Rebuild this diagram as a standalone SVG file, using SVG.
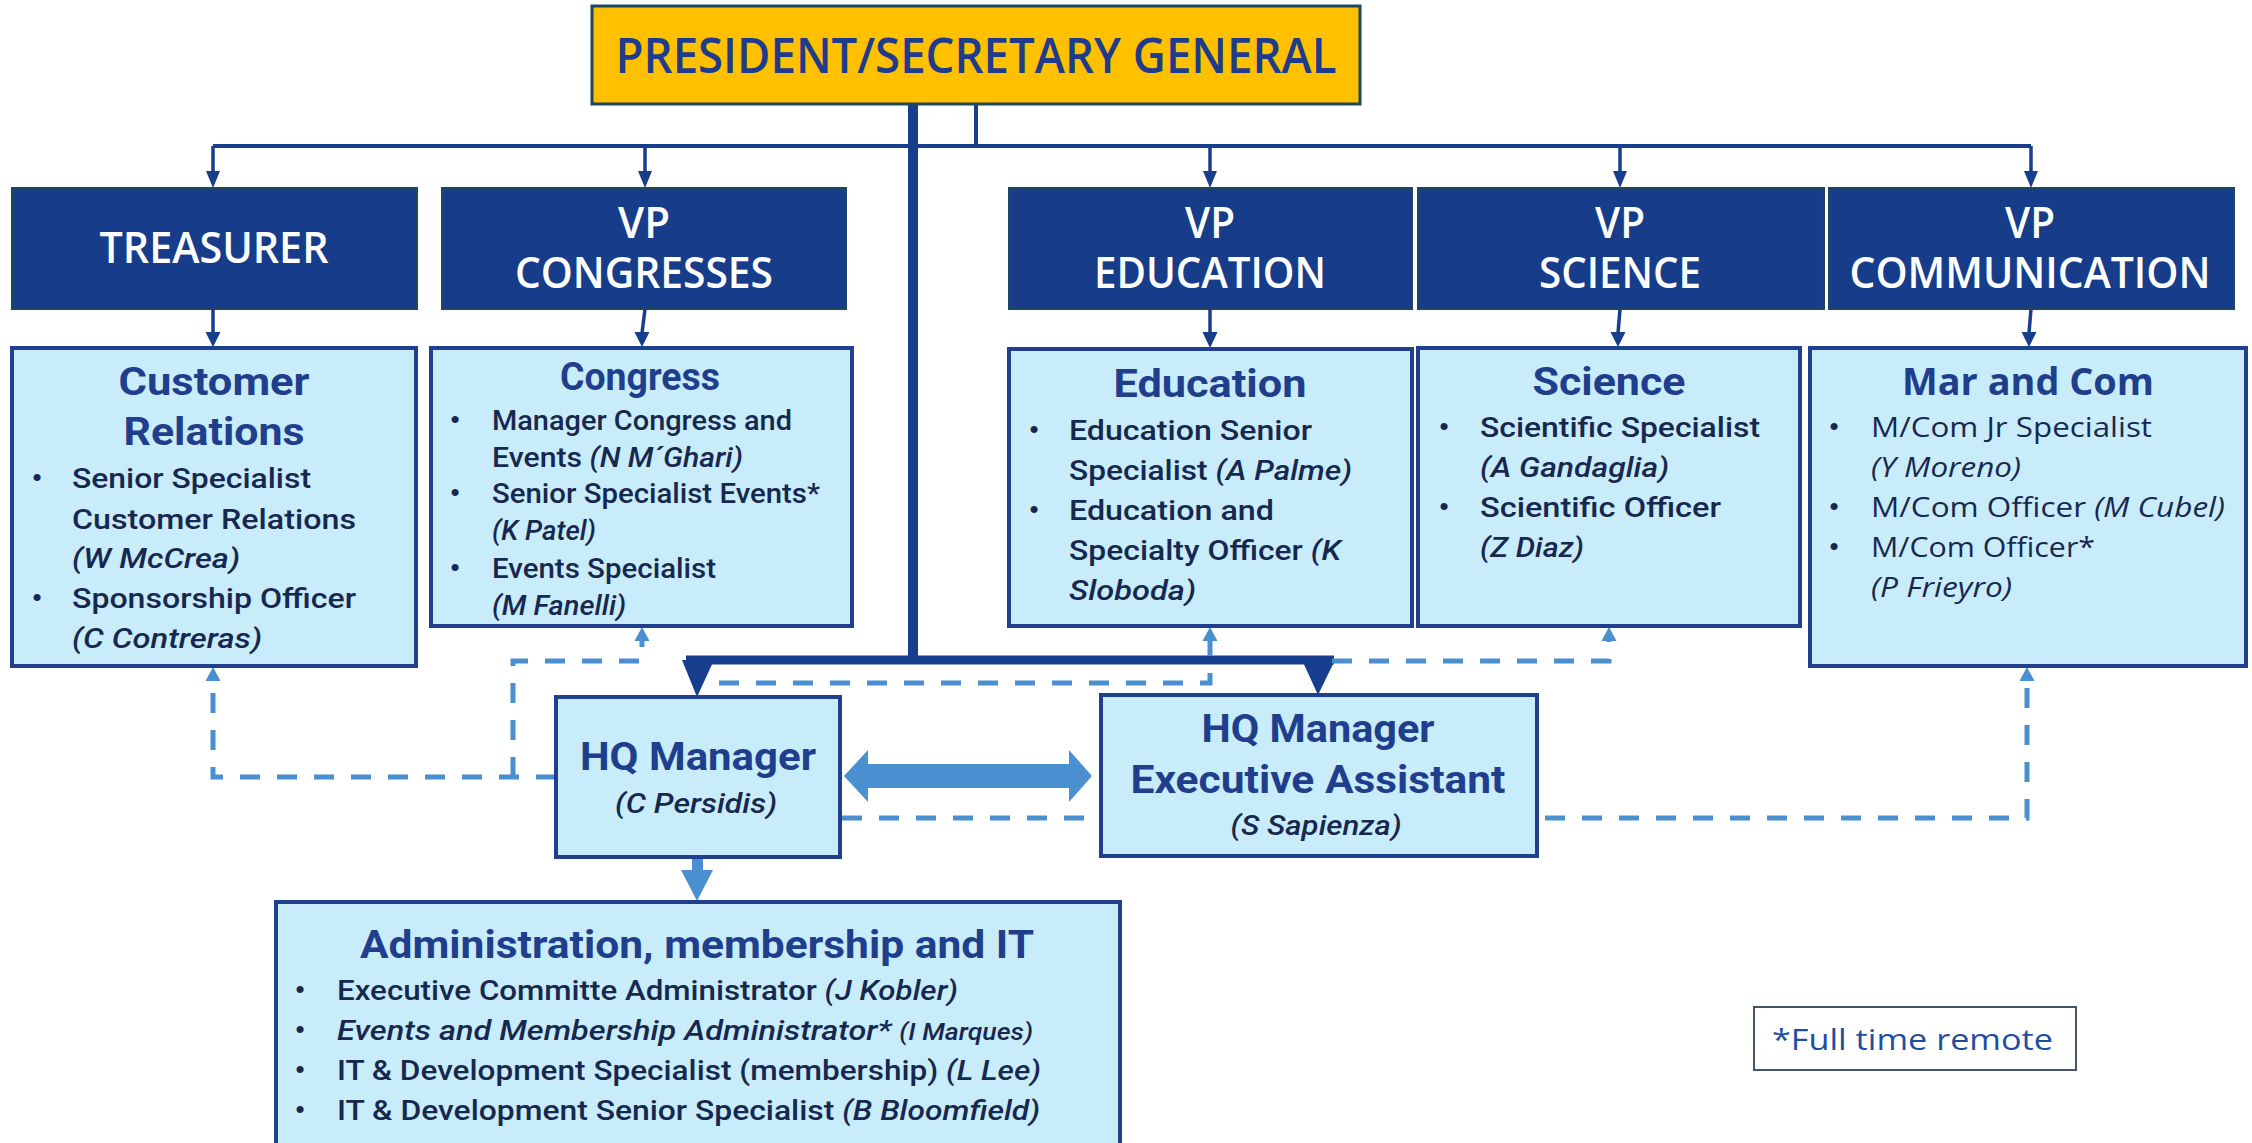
<svg xmlns="http://www.w3.org/2000/svg" width="2252" height="1143" viewBox="0 0 2252 1143">
<style>
.navy{fill:#163C8A;stroke:#1D4660;stroke-width:2}
.light{fill:#C9ECFB;stroke:#1F3F8F;stroke-width:4}
.head{font-family:'Open Sans','Noto Sans',sans-serif;font-weight:600;fill:#FFFFFF;font-size:43px;text-anchor:middle}
.ttl{font-family:Roboto,'Liberation Sans',Arial,sans-serif;font-weight:bold;fill:#1F3E8C;font-size:38px;text-anchor:middle}
.b{font-family:Roboto,'Liberation Sans',Arial,sans-serif;font-weight:500;fill:#17284F;font-size:28px}
.mc{font-family:'Open Sans','Noto Sans',sans-serif;fill:#17284F;font-size:27px}
.dot{font-family:'Liberation Sans',Arial,sans-serif;fill:#17284F;font-size:26px;text-anchor:middle}
.i{font-style:italic}
.solid{fill:none;stroke:#173E8C}
.dash{fill:none;stroke:#4A8FD0;stroke-width:5;stroke-dasharray:20 17}
.nav{fill:#173E8C}
.lb{fill:#4A8FD0}
</style>
<rect width="2252" height="1143" fill="#FFFFFF"/>

<g id="connectors">
<path class="solid" stroke-width="4" d="M213 146 H2031"/>
<path class="solid" stroke-width="4" d="M976 104 V146"/>
<path class="solid" stroke-width="3.5" d="M213 146 V172"/>
<path class="solid" stroke-width="3.5" d="M645 146 V172"/>
<path class="solid" stroke-width="3.5" d="M1210 146 V172"/>
<path class="solid" stroke-width="3.5" d="M1620 146 V172"/>
<path class="solid" stroke-width="3.5" d="M2031 146 V172"/>
<polygon class="nav" points="206,171 220,171 213,188"/>
<polygon class="nav" points="638,171 652,171 645,188"/>
<polygon class="nav" points="1203,171 1217,171 1210,188"/>
<polygon class="nav" points="1613,171 1627,171 1620,188"/>
<polygon class="nav" points="2024,171 2038,171 2031,188"/>
<path class="solid" stroke-width="3.5" d="M213 309 V333"/>
<path class="solid" stroke-width="3.5" d="M645 309 L642 333"/>
<path class="solid" stroke-width="3.5" d="M1210 309 V333"/>
<path class="solid" stroke-width="3.5" d="M1620 309 L1618 333"/>
<path class="solid" stroke-width="3.5" d="M2031 309 L2029 333"/>
<polygon class="nav" points="205.5,332 220.5,332 213,347"/>
<polygon class="nav" points="634.5,332 649.5,332 642,347"/>
<polygon class="nav" points="1202.5,332 1217.5,332 1210,348"/>
<polygon class="nav" points="1610.5,332 1625.5,332 1618,347"/>
<polygon class="nav" points="2021.5,332 2036.5,332 2029,347"/>
<path class="solid" stroke-width="10" d="M913 104 V660"/>
<path class="solid" stroke-width="9" d="M686 660 H1334"/>
<polygon class="nav" points="682,660 714,660 697,697"/>
<polygon class="nav" points="1302,660 1335,660 1318,695"/>
<path class="dash" d="M556 777 H213 V680"/>
<path class="dash" d="M513 777 V661 H642 V640"/>
<path class="dash" d="M719 683 H1210 V640"/>
<path class="dash" d="M1332 661 H1609 V640"/>
<path class="dash" d="M842 818 H2027 V680"/>
<polygon class="lb" points="213,667 220.5,681 205.5,681"/>
<polygon class="lb" points="642,627 649.5,641 634.5,641"/>
<polygon class="lb" points="1210,627 1217.5,641 1202.5,641"/>
<polygon class="lb" points="1609,627 1616.5,641 1601.5,641"/>
<polygon class="lb" points="2027,667 2034.5,681 2019.5,681"/>
<polygon class="lb" points="844,776 868,750 868,764 1069,764 1069,750 1092,776 1069,802 1069,788 868,788 868,802"/>
<rect class="lb" x="692" y="857" width="11" height="15"/>
<polygon class="lb" points="681,870 713,870 697,901"/>
</g>

<g id="president">
<rect x="592" y="6" width="768" height="98" fill="#FFC000" stroke="#1D4660" stroke-width="3"/>
<text x="976" y="73" font-family="'Open Sans','Noto Sans',sans-serif" font-weight="600" font-size="48" fill="#1F3C8C" text-anchor="middle" textLength="721" lengthAdjust="spacingAndGlyphs">PRESIDENT/SECRETARY GENERAL</text>
</g>

<g id="treasurer">
<rect class="navy" x="12" y="188" width="405" height="121"/>
<text class="head" x="214" y="263" textLength="229" lengthAdjust="spacingAndGlyphs">TREASURER</text>
</g>
<g id="vp-congresses">
<rect class="navy" x="442" y="188" width="404" height="121"/>
<text class="head" x="644" y="238" textLength="52" lengthAdjust="spacingAndGlyphs">VP</text>
<text class="head" x="644" y="288" textLength="258" lengthAdjust="spacingAndGlyphs">CONGRESSES</text>
</g>
<g id="vp-education">
<rect class="navy" x="1009" y="188" width="403" height="121"/>
<text class="head" x="1210" y="238" textLength="50" lengthAdjust="spacingAndGlyphs">VP</text>
<text class="head" x="1210" y="288" textLength="232" lengthAdjust="spacingAndGlyphs">EDUCATION</text>
</g>
<g id="vp-science">
<rect class="navy" x="1418" y="188" width="406" height="121"/>
<text class="head" x="1620" y="238" textLength="50" lengthAdjust="spacingAndGlyphs">VP</text>
<text class="head" x="1620" y="288" textLength="162" lengthAdjust="spacingAndGlyphs">SCIENCE</text>
</g>
<g id="vp-communication">
<rect class="navy" x="1829" y="188" width="405" height="121"/>
<text class="head" x="2030" y="238" textLength="50" lengthAdjust="spacingAndGlyphs">VP</text>
<text class="head" x="2030" y="288" textLength="361" lengthAdjust="spacingAndGlyphs">COMMUNICATION</text>
</g>

<g id="customer-relations">
<rect class="light" x="12" y="348" width="404" height="318"/>
<text class="ttl" x="214" y="395" textLength="191" lengthAdjust="spacingAndGlyphs">Customer</text>
<text class="ttl" x="214" y="445" textLength="181" lengthAdjust="spacingAndGlyphs">Relations</text>
<text class="dot" x="37" y="486">•</text>
<text class="b" x="72" y="488" textLength="239" lengthAdjust="spacingAndGlyphs">Senior Specialist</text>
<text class="b" x="72" y="529" textLength="284" lengthAdjust="spacingAndGlyphs">Customer Relations</text>
<text class="b i" x="72" y="568" textLength="168" lengthAdjust="spacingAndGlyphs">(W McCrea)</text>
<text class="dot" x="37" y="606">•</text>
<text class="b" x="72" y="608" textLength="284" lengthAdjust="spacingAndGlyphs">Sponsorship Officer</text>
<text class="b i" x="72" y="648" textLength="190" lengthAdjust="spacingAndGlyphs">(C Contreras)</text>
</g>

<g id="congress">
<rect class="light" x="431" y="348" width="421" height="278"/>
<text class="ttl" x="640" y="390" textLength="160" lengthAdjust="spacingAndGlyphs">Congress</text>
<text class="dot" x="455" y="428">•</text>
<text class="b" x="492" y="430" textLength="300" lengthAdjust="spacingAndGlyphs">Manager Congress and</text>
<text class="b" x="492" y="467" textLength="251" lengthAdjust="spacingAndGlyphs">Events <tspan class="i">(N M´Ghari)</tspan></text>
<text class="dot" x="455" y="501">•</text>
<text class="b" x="492" y="503" textLength="328" lengthAdjust="spacingAndGlyphs">Senior Specialist Events*</text>
<text class="b i" x="492" y="540" textLength="104" lengthAdjust="spacingAndGlyphs">(K Patel)</text>
<text class="dot" x="455" y="576">•</text>
<text class="b" x="492" y="578" textLength="224" lengthAdjust="spacingAndGlyphs">Events Specialist</text>
<text class="b i" x="492" y="615" textLength="134" lengthAdjust="spacingAndGlyphs">(M Fanelli)</text>
</g>

<g id="education">
<rect class="light" x="1009" y="349" width="403" height="277"/>
<text class="ttl" x="1210" y="397" textLength="193" lengthAdjust="spacingAndGlyphs">Education</text>
<text class="dot" x="1034" y="438">•</text>
<text class="b" x="1069" y="440" textLength="243" lengthAdjust="spacingAndGlyphs">Education Senior</text>
<text class="b" x="1069" y="480" textLength="283" lengthAdjust="spacingAndGlyphs">Specialist <tspan class="i">(A Palme)</tspan></text>
<text class="dot" x="1034" y="518">•</text>
<text class="b" x="1069" y="520" textLength="205" lengthAdjust="spacingAndGlyphs">Education and</text>
<text class="b" x="1069" y="560" textLength="272" lengthAdjust="spacingAndGlyphs">Specialty Officer <tspan class="i">(K</tspan></text>
<text class="b i" x="1069" y="600" textLength="127" lengthAdjust="spacingAndGlyphs">Sloboda)</text>
</g>

<g id="science">
<rect class="light" x="1418" y="348" width="382" height="278"/>
<text class="ttl" x="1609" y="395" textLength="153" lengthAdjust="spacingAndGlyphs">Science</text>
<text class="dot" x="1444" y="435">•</text>
<text class="b" x="1480" y="437" textLength="280" lengthAdjust="spacingAndGlyphs">Scientific Specialist</text>
<text class="b i" x="1480" y="477" textLength="189" lengthAdjust="spacingAndGlyphs">(A Gandaglia)</text>
<text class="dot" x="1444" y="515">•</text>
<text class="b" x="1480" y="517" textLength="241" lengthAdjust="spacingAndGlyphs">Scientific Officer</text>
<text class="b i" x="1480" y="557" textLength="104" lengthAdjust="spacingAndGlyphs">(Z Diaz)</text>
</g>

<g id="mar-and-com">
<rect class="light" x="1810" y="348" width="436" height="318"/>
<text x="2028" y="395" font-family="'Open Sans','Noto Sans',sans-serif" font-weight="bold" font-size="37" fill="#1F3E8C" text-anchor="middle" textLength="252" lengthAdjust="spacingAndGlyphs">Mar and Com</text>
<text class="dot" x="1834" y="435">•</text>
<text class="mc" x="1871" y="437" textLength="281" lengthAdjust="spacingAndGlyphs">M/Com Jr Specialist</text>
<text class="mc i" x="1871" y="477" textLength="150" lengthAdjust="spacingAndGlyphs">(Y Moreno)</text>
<text class="dot" x="1834" y="515">•</text>
<text class="mc" x="1871" y="517" textLength="354" lengthAdjust="spacingAndGlyphs">M/Com Officer <tspan class="i">(M Cubel)</tspan></text>
<text class="dot" x="1834" y="555">•</text>
<text class="mc" x="1871" y="557" textLength="224" lengthAdjust="spacingAndGlyphs">M/Com Officer*</text>
<text class="mc i" x="1871" y="597" textLength="141" lengthAdjust="spacingAndGlyphs">(P Frieyro)</text>
</g>

<g id="hq-manager">
<rect class="light" x="556" y="697" width="284" height="160"/>
<text class="ttl" x="698" y="770" textLength="236" lengthAdjust="spacingAndGlyphs">HQ Manager</text>
<text class="b i" x="696" y="813" font-size="30" fill="#1F3E8C" text-anchor="middle" textLength="162" lengthAdjust="spacingAndGlyphs">(C Persidis)</text>
</g>

<g id="hq-executive-assistant">
<rect class="light" x="1101" y="695" width="436" height="161"/>
<text class="ttl" x="1318" y="742" textLength="233" lengthAdjust="spacingAndGlyphs">HQ Manager</text>
<text class="ttl" x="1318" y="793" textLength="375" lengthAdjust="spacingAndGlyphs">Executive Assistant</text>
<text class="b i" x="1316" y="835" font-size="30" fill="#1F3E8C" text-anchor="middle" textLength="171" lengthAdjust="spacingAndGlyphs">(S Sapienza)</text>
</g>

<g id="administration">
<rect class="light" x="276" y="902" width="844" height="260"/>
<text class="ttl" x="697" y="958" textLength="674" lengthAdjust="spacingAndGlyphs">Administration, membership and IT</text>
<text class="dot" x="300" y="998">•</text>
<text class="b" x="337" y="1000" textLength="621" lengthAdjust="spacingAndGlyphs">Executive Committe Administrator <tspan class="i">(J Kobler)</tspan></text>
<text class="dot" x="300" y="1038">•</text>
<text class="b i" x="337" y="1040" textLength="696" lengthAdjust="spacingAndGlyphs">Events and Membership Administrator* <tspan font-size="23">(I Marques)</tspan></text>
<text class="dot" x="300" y="1078">•</text>
<text class="b" x="337" y="1080" textLength="704" lengthAdjust="spacingAndGlyphs">IT &amp; Development Specialist (membership) <tspan class="i">(L Lee)</tspan></text>
<text class="dot" x="300" y="1118">•</text>
<text class="b" x="337" y="1120" textLength="703" lengthAdjust="spacingAndGlyphs">IT &amp; Development Senior Specialist <tspan class="i">(B Bloomfield)</tspan></text>
</g>

<g id="note">
<rect x="1754" y="1007" width="322" height="63" fill="#FFFFFF" stroke="#44546A" stroke-width="2"/>
<text x="1772" y="1050" font-family="'Open Sans','Noto Sans',sans-serif" font-size="30" fill="#1F4E9F" textLength="281" lengthAdjust="spacingAndGlyphs">*Full time remote</text>
</g>
</svg>
